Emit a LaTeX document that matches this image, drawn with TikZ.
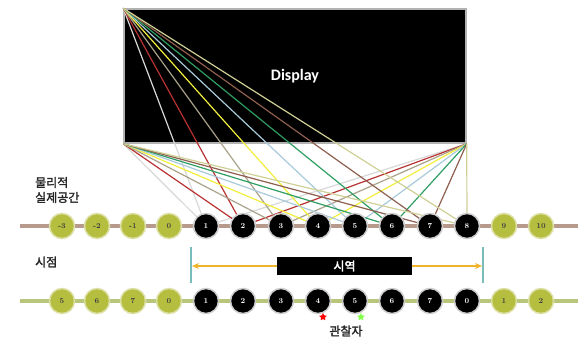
\documentclass[tikz,border=0pt]{standalone}
\usepackage{fontspec}
\newfontfamily\hangul{Noto Sans CJK KR}[FakeBold=2.2]
\newfontfamily\dispfont{Carlito}
\usepackage{xcolor}
\usepackage{tikz}
\usetikzlibrary{arrows.meta,positioning,shapes.geometric}

\definecolor{railtan}{HTML}{B89A8C}
\definecolor{railgreen}{HTML}{B8C67C}
\definecolor{dotgreen}{HTML}{B5BE3E}
\definecolor{dotrim}{HTML}{DDE0A6}
\definecolor{fence}{HTML}{78BCBC}
\definecolor{spanorange}{HTML}{F0B428}
\definecolor{rA}{HTML}{D8D8D8}
\definecolor{rB}{HTML}{B83232}
\definecolor{rC}{HTML}{A9A18A}
\definecolor{rD}{HTML}{F2EE3C}
\definecolor{rE}{HTML}{A8CADB}
\definecolor{rF}{HTML}{2F9E62}
\definecolor{rG}{HTML}{8E5E4E}
\definecolor{rH}{HTML}{CFCF96}

\pgfdeclarelayer{back}
\pgfsetlayers{back,main}

\begin{document}
\begin{tikzpicture}[
        x=1pt, y=-1pt,
        screen/.style={rectangle, draw=gray!60, line width=1.5pt, fill=black, minimum width=342pt, minimum height=134pt, inner sep=0pt, text=white, font=\dispfont\bfseries\fontsize{16}{18}\selectfont},
        greenpt/.style={circle, draw=dotrim, line width=1.5pt, fill=dotgreen, minimum size=25pt, inner sep=0pt, text=black!75, font=\bfseries\fontsize{7.5}{8}\selectfont},
        blackpt/.style={greenpt, draw=gray!40, fill=black, text=white},
        kortext/.style={font=\hangul\fontsize{12}{15}\selectfont, text=black!85, align=left, inner sep=0pt},
        zonebox/.style={rectangle, fill=black, minimum width=135pt, minimum height=18pt, inner sep=0pt, text=white, font=\hangul\fontsize{12}{14}\selectfont},
        ray/.style={line width=1.2pt},
        rail/.style={line width=3.5pt}
    ]
    \useasboundingbox (0,0) rectangle (582,338);

    % Display
    \begin{pgfonlayer}{back}
    \node[screen] (disp) at (295,76) {Display};
    \end{pgfonlayer}

    % Labels
    \node[kortext, anchor=west] (real) at (35,190) {물리적\\실제공간};
    \node[kortext, anchor=west] (view) at (35,262) {시점};

    % Rails
    \draw[rail, railtan] (20,226) -- (578,226);
    \draw[rail, railgreen] (20,301) -- (578,301);

    % Points, top row
    \foreach \x/\n/\s [count=\i] in {62/-3/greenpt, 97/-2/greenpt, 133/-1/greenpt, 169/0/greenpt,
            206/1/blackpt, 243/2/blackpt, 281/3/blackpt, 318/4/blackpt, 355/5/blackpt, 392/6/blackpt, 430/7/blackpt, 467/8/blackpt,
            504/9/greenpt, 541/10/greenpt}
        \node[\s] (t\i) at (\x,226) {\n};

    % Points, bottom row
    \foreach \x/\n/\s [count=\i] in {62/5/greenpt, 97/6/greenpt, 133/7/greenpt, 169/0/greenpt,
            206/1/blackpt, 243/2/blackpt, 281/3/blackpt, 318/4/blackpt, 355/5/blackpt, 392/6/blackpt, 430/7/blackpt, 467/0/blackpt,
            504/1/greenpt, 541/2/greenpt}
        \node[\s] (b\i) at (\x,301) {\n};

    % Rays
    \begin{pgfonlayer}{back}
    \foreach \c [count=\k from 5] in {rA,rB,rC,rD,rE,rF,rG,rH} {
        \draw[ray, \c] (disp.north west) -- (t\k);
        \draw[ray, \c] (disp.south west) -- (t\k);
        \draw[ray, \c] (disp.south east) -- (t\k);
    }
    \end{pgfonlayer}

    % Viewing zone
    \draw[fence, line width=1.5pt] (191,247) -- (191,283);
    \draw[fence, line width=1.5pt] (483,247) -- (483,283);
    \coordinate (lfence) at (192,266);
    \coordinate (rfence) at (482,266);
    \node[zonebox] (zone) at (344.5,266) {시역};
    \draw[-{Stealth[length=7pt,width=6pt]}, spanorange, line width=1.4pt] (zone.west) -- (lfence);
    \draw[-{Stealth[length=7pt,width=6pt]}, spanorange, line width=1.4pt] (zone.east) -- (rfence);

    % Observer
    \node[star, star points=5, star point ratio=2, fill=red, minimum size=8pt, inner sep=0pt] (eyeL) at (323,317) {};
    \node[star, star points=5, star point ratio=2, fill=green!60!lime!70!white, minimum size=8pt, inner sep=0pt] (eyeR) at (361,317) {};
    \node[kortext] (watcher) at (346,331) {관찰자};

\end{tikzpicture}
\end{document}
